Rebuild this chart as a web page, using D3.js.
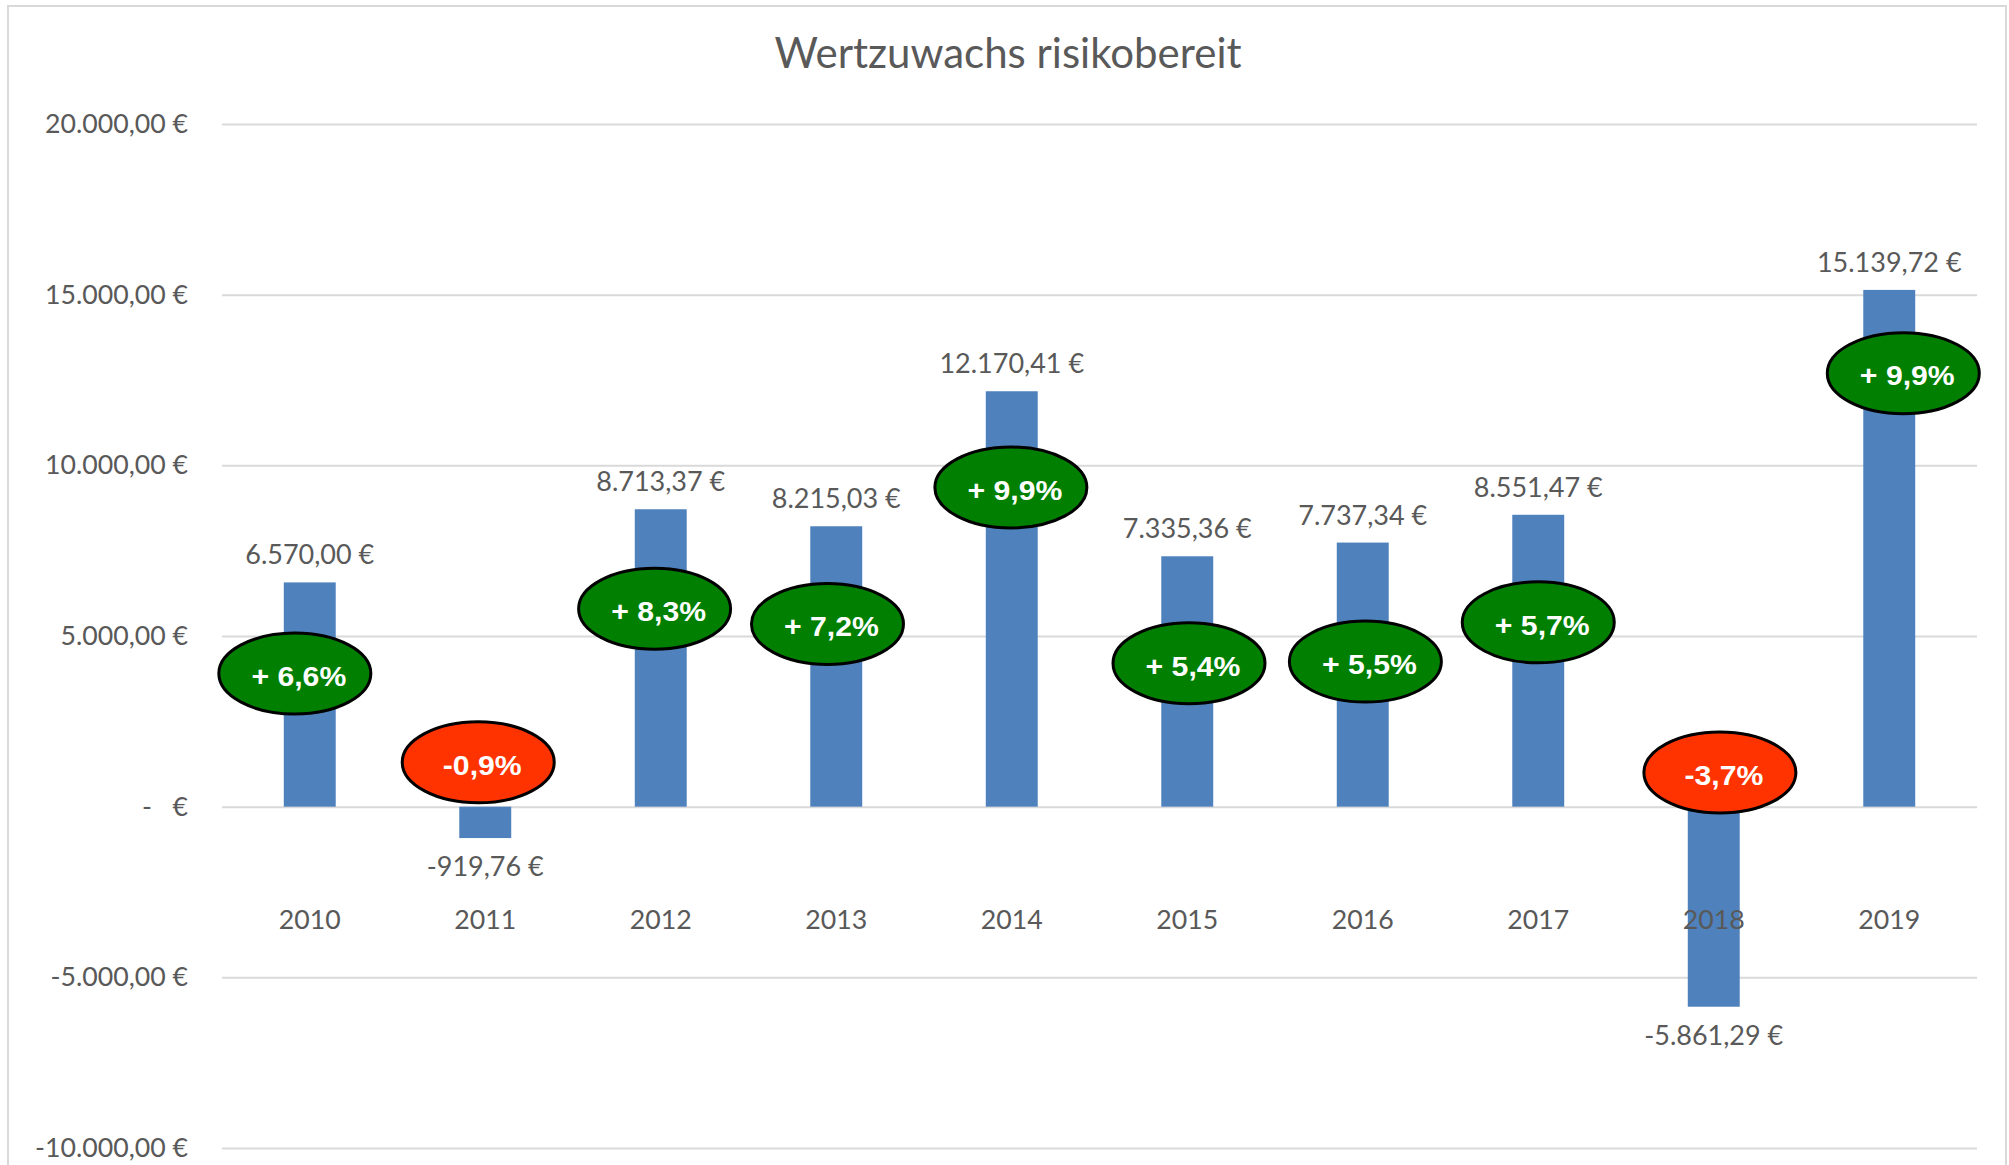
<!DOCTYPE html>
<html>
<head>
<meta charset="utf-8">
<script src="https://cdn.jsdelivr.net/npm/d3@7"></script>
<style>
  body { margin: 0; background: #fff; }
  text { font-family: Lato, "Open Sans", sans-serif; }
</style>
</head>
<body>
<div id="main"></div>
<script>
// data
const years = ['2010', '2011', '2012', '2013', '2014', '2015', '2016', '2017', '2018', '2019'];
const gains = [6570.00, -919.76, 8713.37, 8215.03, 12170.41, 7335.36, 7737.34, 8551.47, -5861.29, 15139.72];
const growth = [6.6, -0.9, 8.3, 7.2, 9.9, 5.4, 5.5, 5.7, -3.7, 9.9];
// where each percentage bubble sits: value in € and shift in parts of a category step
const bubbleLevel = [3900, 1300, 5800, 5350, 9350, 4200, 4250, 5400, 1000, 12700];
const bubbleNudge = [-0.085, -0.04, -0.035, -0.05, -0.005, 0.01, 0.015, 0, 0.035, 0.08];
const yTicks = [20000, 15000, 10000, 5000, 0, -5000, -10000];

const width = 2009;
const height = 1165;

const svg = d3.select('#main')
              .append('svg')
              .attr('width', width)
              .attr('height', height)

const de = d3.formatLocale({decimal: ',', thousands: '.', grouping: [3], currency: ['', ' €'], minus: '-'});
const euro = (v) => v === 0 ? '-   €' : de.format(',.2f')(v) + ' €';
const pct = (v) => (v > 0 ? '+ ' : '') + de.format('.1f')(v) + '%';

const x = d3.scaleBand()
            .domain(years)
            .range([222, 1977])
            .paddingInner(0.704)
            .paddingOuter(0.352);
const y = d3.scaleLinear().domain([-10000, 20000]).range([1148, 124]);
const cx = (i) => x(years[i]) + x.bandwidth() / 2;

// chart frame
svg.append('rect')
   .attr('x', 8).attr('y', 6)
   .attr('width', 1998).attr('height', 1175)
   .attr('fill', 'none')
   .attr('stroke', '#d9d9d9')
   .attr('stroke-width', 2)

svg.append('text')
   .attr('x', 1008).attr('y', 68)
   .attr('text-anchor', 'middle')
   .attr('fill', '#595959')
   .style('font-size', '42px')
   .text('Wertzuwachs risikobereit')

// y axis with gridlines
const yAxis = svg.append('g')
                 .attr('transform', 'translate(222,0)')
                 .call(d3.axisLeft(y).tickValues(yTicks).tickFormat(euro).tickSize(-(1977 - 222)).tickPadding(34))
yAxis.select('.domain').remove()
yAxis.selectAll('line').attr('stroke', '#d9d9d9').attr('stroke-width', 2)
yAxis.selectAll('text')
     .attr('fill', '#595959')
     .style('font-size', '26.7px')
     .style('font-family', 'Lato, sans-serif')
     .style('white-space', 'pre')

// bars
svg.append('g')
   .selectAll('rect')
   .data(gains)
   .enter()
   .append('rect')
   .attr('x', (d, i) => x(years[i]))
   .attr('y', (d) => y(Math.max(0, d)))
   .attr('width', x.bandwidth())
   .attr('height', (d) => Math.abs(y(d) - y(0)))
   .attr('fill', '#4f81bd')

// category labels
const xAxis = svg.append('g')
                 .attr('transform', 'translate(0,' + y(0) + ')')
                 .call(d3.axisBottom(x).tickSize(0).tickPadding(103))
xAxis.select('.domain').remove()
xAxis.selectAll('text')
     .attr('fill', '#595959')
     .style('font-size', '26.7px')
     .style('font-family', 'Lato, sans-serif')

// value labels
svg.append('g')
   .selectAll('text')
   .data(gains)
   .enter()
   .append('text')
   .attr('x', (d, i) => cx(i))
   .attr('y', (d) => d >= 0 ? y(d) - 18 : y(d) + 38)
   .attr('text-anchor', 'middle')
   .attr('fill', '#595959')
   .style('font-size', '27px')
   .text(euro)

// percentage bubbles
const bubble = svg.append('g')
                  .selectAll('g')
                  .data(growth)
                  .enter()
                  .append('g')
                  .attr('transform', (d, i) => 'translate(' + (cx(i) + bubbleNudge[i] * x.step()) + ',' + y(bubbleLevel[i]) + ')')
bubble.append('ellipse')
      .attr('rx', 76)
      .attr('ry', 40.5)
      .attr('fill', (d) => d >= 0 ? '#007f00' : '#ff3300')
      .attr('stroke', '#000')
      .attr('stroke-width', 3)
bubble.append('text')
      .attr('text-anchor', 'middle')
      .attr('dy', '0.36em')
      .attr('transform', 'translate(4,2) scale(1.06,1)')
      .attr('fill', '#fff')
      .style('font-family', '"Liberation Sans", Arial, sans-serif')
      .style('font-weight', 'bold')
      .style('font-size', '28.5px')
      .text(pct)
</script>
</body>
</html>
